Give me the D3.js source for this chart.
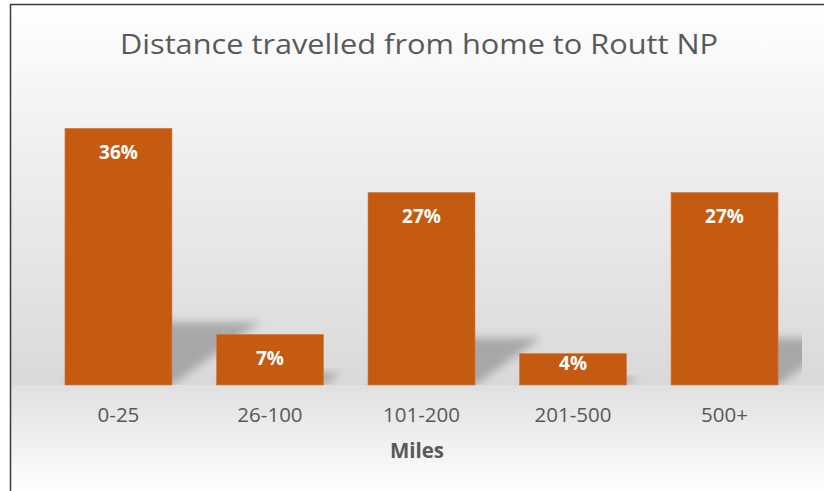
<!DOCTYPE html>
<html>
<head>
<meta charset="utf-8">
<script src="https://cdn.jsdelivr.net/npm/d3@7"></script>
<style>
  html, body { margin: 0; padding: 0; background: #ffffff; }
  svg { display: block; }
</style>
</head>
<body>
<svg id="chart" width="824" height="491"></svg>
<script>
const categories = ["0-25", "26-100", "101-200", "201-500", "500+"];
const shares = [0.36, 0.071, 0.27, 0.044, 0.27];
const titleText = "Distance travelled from home to Routt NP";
const xAxisTitle = "Miles";

const W = 824, H = 491;
const svg = d3.select("#chart");
const defs = svg.append("defs");

// background gradients
const gTop = defs.append("linearGradient").attr("id", "bgTop").attr("x1", 0).attr("y1", 0).attr("x2", 0).attr("y2", 1);
gTop.append("stop").attr("offset", "0%").attr("stop-color", "#ffffff");
gTop.append("stop").attr("offset", "25%").attr("stop-color", "#f4f4f4");
gTop.append("stop").attr("offset", "100%").attr("stop-color", "#d9d9d9");
const gBot = defs.append("linearGradient").attr("id", "bgBot").attr("x1", 0).attr("y1", 0).attr("x2", 0).attr("y2", 1);
gBot.append("stop").attr("offset", "0%").attr("stop-color", "#e0e0e0");
gBot.append("stop").attr("offset", "100%").attr("stop-color", "#fefefe");

const blur = defs.append("filter").attr("id", "blur").attr("x", "-30%").attr("y", "-30%").attr("width", "160%").attr("height", "160%");
blur.append("feGaussianBlur").attr("stdDeviation", 4.5);

const baseY = 385;
defs.append("clipPath").attr("id", "plotClip")
  .append("rect").attr("x", 20).attr("y", 60).attr("width", 782).attr("height", baseY - 60);

// chart background + frame
svg.append("rect").attr("x", 10).attr("y", 4).attr("width", W).attr("height", baseY - 4).attr("fill", "url(#bgTop)");
svg.append("rect").attr("x", 10).attr("y", baseY).attr("width", W).attr("height", H - baseY).attr("fill", "url(#bgBot)");
svg.append("line").attr("x1", 10).attr("y1", 4.5).attr("x2", W).attr("y2", 4.5).attr("stroke", "#3a3a3a").attr("stroke-width", 1.5);
svg.append("line").attr("x1", 10.5).attr("y1", 4).attr("x2", 10.5).attr("y2", H).attr("stroke", "#3a3a3a").attr("stroke-width", 1.5);

// scales
const x = d3.scaleBand().domain(categories).range([42.7, 800.3]).paddingInner(0.294).paddingOuter(0.147);
const y = d3.scaleLinear().domain([0, 0.40]).range([baseY, baseY - 285.2]);

// shadows
const shadowG = svg.append("g").attr("clip-path", "url(#plotClip)");
shadowG.selectAll("path").data(categories).join("path")
  .attr("d", (c, i) => {
    const x0 = x(c), x1 = x(c) + x.bandwidth();
    const h = (baseY - y(shares[i])) * 0.245;
    const dx = h * 1.4;
    return `M${x0},${baseY}L${x1},${baseY}L${x1 + dx},${baseY - h}L${x0 + dx},${baseY - h}Z`;
  })
  .attr("fill", "#8c8c8c")
  .attr("opacity", 0.65)
  .attr("filter", "url(#blur)");

// bars
svg.append("g").selectAll("rect").data(categories).join("rect")
  .attr("x", c => x(c))
  .attr("y", (c, i) => y(shares[i]))
  .attr("width", x.bandwidth())
  .attr("height", (c, i) => baseY - y(shares[i]))
  .attr("fill", "#c55a11")
  .attr("stroke", "#d27a3f")
  .attr("stroke-width", 0.6);

// data labels
const fmt = d3.format(".0%");
svg.append("g").selectAll("text").data(categories).join("text")
  .attr("x", c => x(c) + x.bandwidth() / 2)
  .attr("y", (c, i) => Math.min(y(shares[i]) + 31, baseY - 15))
  .attr("text-anchor", "middle")
  .attr("font-family", "'Open Sans', sans-serif")
  .attr("font-weight", "bold")
  .attr("font-size", 19)
  .attr("fill", "#ffffff")
  .text((c, i) => fmt(shares[i]));

// x axis
const axis = svg.append("g").attr("transform", `translate(0,${baseY})`)
  .call(d3.axisBottom(x).tickSize(0).tickPadding(22.4));
axis.select(".domain").remove();
axis.selectAll("text")
  .attr("font-family", "'Open Sans', sans-serif")
  .attr("font-size", 20.5)
  .attr("fill", "#595959");

// axis title
svg.append("text")
  .attr("x", 417).attr("y", 457.7)
  .attr("text-anchor", "middle")
  .attr("font-family", "'Open Sans', sans-serif")
  .attr("font-weight", "bold")
  .attr("font-size", 20.5)
  .attr("fill", "#595959")
  .text(xAxisTitle);

// title
svg.append("text")
  .attr("x", 419).attr("y", 54.3)
  .attr("text-anchor", "middle")
  .attr("font-family", "'Open Sans', sans-serif")
  .attr("font-size", 26.5)
  .attr("fill", "#595959")
  .attr("textLength", 598)
  .attr("lengthAdjust", "spacingAndGlyphs")
  .text(titleText);
</script>
</body>
</html>
